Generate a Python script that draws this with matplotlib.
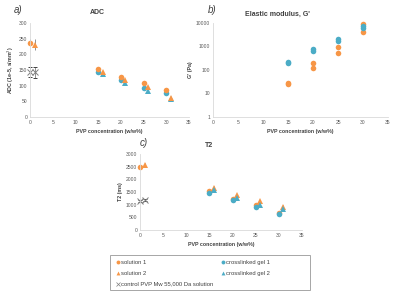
import matplotlib
matplotlib.use("Agg")
import matplotlib.pyplot as plt
from matplotlib.patches import Rectangle
from matplotlib.ticker import FixedLocator, NullLocator

ORANGE = "#F79646"
BLUE = "#4BACC6"
GREY = "#7F7F7F"

# ADC (1e-5 s/mm^2)
adc_sol1_x = [0, 15, 20, 25, 30]
adc_sol1 = [237, 152, 127, 108, 85]
adc_sol1_err = [12, 4, 4, 4, 4]
adc_sol2_x = [1, 16, 21, 26, 31]
adc_sol2 = [231, 143, 118, 95, 61]
adc_sol2_err = [18, 4, 4, 4, 4]
adc_gel1_x = [15, 20, 25, 30]
adc_gel1 = [143, 118, 93, 76]
adc_gel2_x = [16, 21, 26, 31]
adc_gel2 = [136, 110, 84, 58]
adc_ctrl_x = [0, 1]
adc_ctrl = [143, 143]
adc_ctrl_err = [15, 18]

# elastic modulus G' (Pa)
g_x = [15, 20, 25, 30]
g_sol1 = [26, 125, 530, 4300]
g_sol2 = [28, 190, 980, 8700]
g_gel1 = [205, 650, 1650, 6100]
g_gel2 = [222, 760, 2000, 7400]

# T2 (ms)
t2_sol1_x = [0, 15, 20, 25, 30]
t2_sol1 = [2497, 1545, 1244, 979, 660]
t2_sol2_x = [1, 16, 21, 26, 31]
t2_sol2 = [2590, 1665, 1375, 1137, 912]
t2_gel1_x = [15, 20, 25, 30]
t2_gel1 = [1480, 1177, 900, 650]
t2_gel2_x = [16, 21, 26, 31]
t2_gel2 = [1600, 1268, 979, 820]
t2_ctrl_x = [0, 1]
t2_ctrl = [1137, 1205]

plt.rcParams["font.family"] = ["Liberation Sans", "DejaVu Sans"]

fig = plt.figure(figsize=(4, 2.94), dpi=100)


def style(ax, ylabel):
    for s in ("top", "right"):
        ax.spines[s].set_visible(False)
    for s in ("left", "bottom"):
        ax.spines[s].set_color("#D9D9D9")
        ax.spines[s].set_linewidth(0.6)
    ax.tick_params(length=0, labelsize=3.6, colors="#595959", pad=2)
    ax.set_xlim(0, 35)
    ax.set_xticks(range(0, 36, 5))
    ax.set_xlabel("PVP concentration (w/w%)", fontsize=3.8, fontweight="bold",
                  color="#404040", labelpad=3)
    ax.set_ylabel(ylabel, fontsize=3.8, fontweight="bold", color="#404040", labelpad=2)
    ax.patch.set_alpha(0)


ms = 4
err_kw = dict(ecolor="#404040", elinewidth=0.4, capsize=1.2, capthick=0.4,
              linestyle="none")


def points(ax, x, y, err, marker, color):
    mew = 0.7 if marker == "x" else 0
    cont = ax.errorbar(x, y, yerr=err, marker=marker, color=color, ms=ms, mew=mew,
                       **err_kw)
    for art in cont.get_children():
        art.set_clip_on(False)


# a) ADC
ax = fig.add_axes([0.075, 0.602, 0.3975, 0.32])
points(ax, adc_ctrl_x, adc_ctrl, adc_ctrl_err, "x", GREY)
points(ax, adc_gel1_x, adc_gel1, 3, "o", BLUE)
points(ax, adc_gel2_x, adc_gel2, 3, "^", BLUE)
points(ax, adc_sol1_x, adc_sol1, adc_sol1_err, "o", ORANGE)
points(ax, adc_sol2_x, adc_sol2, adc_sol2_err, "^", ORANGE)
ax.set_ylim(0, 300)
ax.set_yticks(range(0, 301, 50))
style(ax, "ADC (1e-5, s/mm$^2$)")
fig.text(97 / 400, 1 - 12 / 294, "ADC", fontsize=5, fontweight="bold",
         color="#404040", ha="center", va="center")

# b) elastic modulus
ax = fig.add_axes([0.5325, 0.602, 0.4375, 0.32])
for vals, col in ((g_sol1, ORANGE), (g_sol2, ORANGE), (g_gel1, BLUE), (g_gel2, BLUE)):
    ax.plot(g_x, vals, "o", color=col, ms=ms, mew=0, clip_on=False)
ax.set_yscale("log")
ax.set_ylim(1, 10000)
ax.yaxis.set_major_locator(FixedLocator([1, 10, 100, 1000, 10000]))
ax.yaxis.set_minor_locator(NullLocator())
ax.set_yticklabels(["1", "10", "100", "1000", "10000"])
style(ax, "G' (Pa)")
fig.text(277 / 400, 1 - 14 / 294, "Elastic modulus, G'", fontsize=5, fontweight="bold",
         color="#404040", ha="center", va="center")

# c) T2
ax = fig.add_axes([0.35, 0.2177, 0.405, 0.258])
points(ax, t2_ctrl_x, t2_ctrl, 40, "x", GREY)
points(ax, t2_sol1_x, t2_sol1, 50, "o", ORANGE)
points(ax, t2_sol2_x, t2_sol2, 60, "^", ORANGE)
points(ax, t2_gel1_x, t2_gel1, 40, "o", BLUE)
points(ax, t2_gel2_x, t2_gel2, 40, "^", BLUE)
ax.set_ylim(0, 3000)
ax.set_yticks(range(0, 3001, 500))
style(ax, "T2 (ms)")
fig.text(0.5125, 0.5, "T2", fontsize=5, fontweight="bold", color="#404040")

# panel letters
fig.text(0.035, 0.955, "a)", fontsize=7, style="italic", color="#404040")
fig.text(0.52, 0.955, "b)", fontsize=7, style="italic", color="#404040")
fig.text(0.35, 0.505, "c)", fontsize=7, style="italic", color="#404040")

# legend, with a wider Excel-style frame drawn separately
fig.patches.append(Rectangle((110 / 400, 1 - 290 / 294), 200 / 400, 35 / 294,
                             transform=fig.transFigure, fill=False,
                             edgecolor="#A6A6A6", linewidth=0.7))
handles = [
    plt.Line2D([], [], marker="o", color=ORANGE, ls="none", ms=2.8, mew=0),
    plt.Line2D([], [], marker="^", color=ORANGE, ls="none", ms=2.8, mew=0),
    plt.Line2D([], [], marker="x", color=GREY, ls="none", ms=2.8, mew=0.5),
    plt.Line2D([], [], marker="o", color=BLUE, ls="none", ms=2.8, mew=0),
    plt.Line2D([], [], marker="^", color=BLUE, ls="none", ms=2.8, mew=0),
]
labels = ["solution 1", "solution 2", "control PVP Mw 55,000 Da solution",
          "crosslinked gel 1", "crosslinked gel 2"]
leg = fig.legend(handles, labels, ncol=2, loc="upper left",
                 bbox_to_anchor=(112 / 400, 1 - 255 / 294),
                 fontsize=4.2, frameon=False,
                 handlelength=0.6, handletextpad=0.2, columnspacing=1.3,
                 borderpad=0.3, labelspacing=1.0)
for t in leg.get_texts():
    t.set_color("#404040")

fig.savefig("out.png", dpi=100)
